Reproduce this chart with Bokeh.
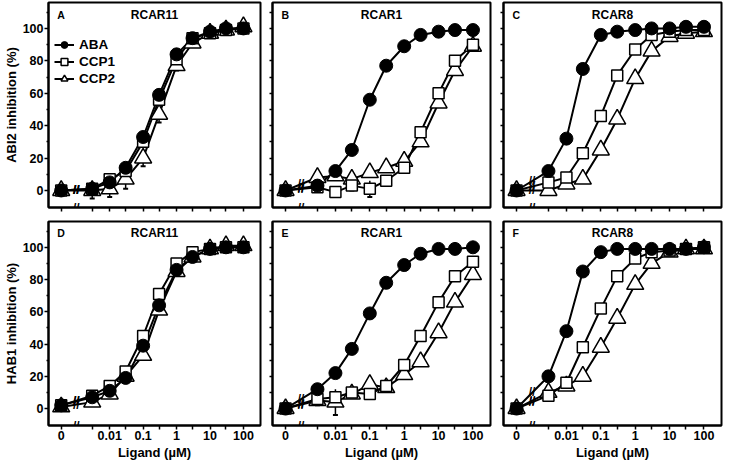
import math
from bokeh.plotting import figure
from bokeh.layouts import gridplot
from bokeh.models import FixedTicker, Label, Legend, LegendItem, Range1d
from bokeh.embed import file_html
from bokeh.resources import INLINE

FONT = "Liberation Sans"

# ---------------- data ----------------
ligand = [0, 0.003, 0.01, 0.03, 0.1, 0.3, 1, 3, 10, 30, 100]
x_labeled = [0, 0.01, 0.1, 1, 10, 100]
x_tick_text = ["0", "0.01", "0.1", "1", "10", "100"]
x_unlabeled = [0.003, 0.03, 0.3, 3, 30]
y_ticks = [0, 20, 40, 60, 80, 100]
y_minor_ticks = [10, 30, 50, 70, 90, 110]

panel_letters = ["A", "B", "C", "D", "E", "F"]
panel_titles = ["RCAR11", "RCAR1", "RCAR8", "RCAR11", "RCAR1", "RCAR8"]
row_labels = ["ABI2 inhibition (%)", "HAB1 inhibition (%)"]
x_label = "Ligand (µM)"
series_names = ["ABA", "CCP1", "CCP2"]

aba_A = [0, 1, 5, 14, 33, 59, 84, 94, 98, 100, 100]
ccp1_A = [0, 1, 7, 12, 30, 56, 81, 94, 97, 99, 100]
ccp2_A = [0, 0, 1, 7, 20, 47, 77, 91, 97, 99, 101]

aba_B = [0, 3, 12, 25, 56, 77, 89, 96, 98, 99, 99]
ccp1_B = [0, 2, -1, 3, 1, 6, 14, 36, 60, 80, 90]
ccp2_B = [0, 8, 9, 7, 11, 14, 18, 30, 54, 74, 89]

aba_C = [0, 12, 32, 75, 96, 98, 99, 100, 100, 101, 101]
ccp1_C = [0, 5, 8, 23, 46, 71, 87, 96, 98, 99, 99]
ccp2_C = [0, 0, 4, 7, 25, 44, 69, 86, 95, 97, 98]

aba_D = [2, 7, 11, 19, 39, 64, 86, 94, 99, 100, 100]
ccp1_D = [2, 8, 14, 23, 45, 71, 90, 97, 99, 100, 100]
ccp2_D = [1, 4, 9, 20, 33, 61, 85, 94, 99, 101, 101]

aba_E = [0, 12, 22, 37, 59, 78, 89, 96, 99, 99, 100]
ccp1_E = [0, 6, 7, 10, 9, 14, 27, 45, 66, 82, 91]
ccp2_E = [0, 5, 4, 9, 15, 13, 21, 29, 47, 66, 83]

aba_F = [0, 20, 48, 85, 97, 99, 99, 99, 99, 99, 100]
ccp1_F = [0, 8, 16, 38, 62, 82, 93, 97, 98, 99, 100]
ccp2_F = [0, 10, 14, 20, 38, 56, 77, 90, 97, 99, 99]

# standard errors that stick out of the markers
err_ccp2_A = [1, 5, 5, 6, 5, 5, 3, 2, 1, 1, 1]
err_ccp1_B = [1, 2, 2, 3, 5, 2, 2, 2, 2, 2, 2]
err_ccp2_E = [1, 3, 8, 2, 2, 2, 2, 2, 2, 2, 2]
err_none = [0] * 11

panel_data = [
    (aba_A, ccp1_A, ccp2_A), (aba_B, ccp1_B, ccp2_B), (aba_C, ccp1_C, ccp2_C),
    (aba_D, ccp1_D, ccp2_D), (aba_E, ccp1_E, ccp2_E), (aba_F, ccp1_F, ccp2_F),
]
panel_errors = [
    (err_none, err_none, err_ccp2_A), (err_none, err_ccp1_B, err_none),
    (err_none, err_none, err_none), (err_none, err_none, err_none),
    (err_none, err_none, err_ccp2_E), (err_none, err_none, err_none),
]

# ---------------- layout / style ----------------
ZERO_POS = -3.45      # where the "0" dose sits on the log axis
BREAK_POS = -3.0      # axis break between 0 and the first dose
X0, X1 = -3.83, 2.51
Y0, Y1 = -10.5, 116
FRAME_W = 218


def xpos(c):
    return ZERO_POS if c == 0 else math.log10(c)


xs = [xpos(c) for c in ligand]


def style_axis(ax):
    ax.axis_line_width = 2
    ax.axis_line_color = "black"
    ax.major_tick_line_width = 1.5
    ax.minor_tick_line_width = 1.5
    ax.major_tick_in = 0
    ax.major_tick_out = 4
    ax.minor_tick_in = 0
    ax.minor_tick_out = 2
    ax.major_label_text_font = FONT
    ax.major_label_text_font_style = "bold"
    ax.major_label_text_font_size = "12.5px"
    ax.major_label_text_color = "black"
    ax.axis_label_text_font = FONT
    ax.axis_label_text_font_style = "bold"
    ax.axis_label_text_font_size = "13px"
    ax.axis_label_text_color = "black"


def make_panel(i):
    row, col = divmod(i, 3)
    fh = 205
    mbl = [42, 9, 10][col]
    mbr = 3
    mbt = 2 if row == 0 else 5
    mbb = 9 if row == 0 else 36
    p = figure(width=mbl + FRAME_W + mbr, height=mbt + fh + mbb,
               x_range=Range1d(X0, X1), y_range=Range1d(Y0, Y1),
               output_backend="svg", toolbar_location=None,
               min_border_left=mbl, min_border_right=mbr,
               min_border_top=mbt, min_border_bottom=mbb)
    p.xgrid.visible = False
    p.ygrid.visible = False
    p.outline_line_color = "black"
    p.outline_line_width = 2
    p.outline_line_alpha = 1
    p.background_fill_color = "white"
    p.border_fill_color = "white"

    xa = p.xaxis[0]
    ya = p.yaxis[0]
    style_axis(xa)
    style_axis(ya)
    xa.major_label_standoff = 1
    ya.major_label_standoff = 1
    xa.axis_label_standoff = 2
    ya.axis_label_standoff = 1

    if row == 1:
        xa.ticker = FixedTicker(ticks=[xpos(c) for c in x_labeled],
                                minor_ticks=[xpos(c) for c in x_unlabeled])
        xa.major_label_overrides = {xpos(c): t for c, t in zip(x_labeled, x_tick_text)}
        xa.minor_tick_out = 4
        xa.axis_label = x_label
    else:
        # ticks only, no labels
        xa.ticker = FixedTicker(ticks=[], minor_ticks=xs)
        xa.minor_tick_out = 4
    if col == 0:
        ya.ticker = FixedTicker(ticks=y_ticks, minor_ticks=y_minor_ticks)
        ya.axis_label = row_labels[row]
    else:
        ya.ticker = FixedTicker(ticks=[], minor_ticks=sorted(y_ticks + y_minor_ticks))
        ya.minor_tick_out = 3

    aba, ccp1, ccp2 = panel_data[i]
    errs = panel_errors[i]
    lines = {}
    for name, vals in zip(series_names, (aba, ccp1, ccp2)):
        lines[name] = p.line(xs, vals, line_color="black", line_width=2)

    # error bars (drawn beneath the markers)
    for vals, err in zip((aba, ccp1, ccp2), errs):
        ex = [x for x, e in zip(xs, err) if e > 0]
        lo = [v - e for v, e in zip(vals, err) if e > 0]
        hi = [v + e for v, e in zip(vals, err) if e > 0]
        if ex:
            p.segment(ex, lo, ex, hi, line_color="black", line_width=1.5)
            p.scatter(ex, lo, marker="dash", size=5, line_color="black", line_width=2)

    scat = {}
    scat["CCP2"] = p.scatter(xs, ccp2, marker="triangle", size=17,
                             fill_color="white", line_color="black", line_width=1.5)
    scat["CCP1"] = p.scatter(xs, ccp1, marker="square", size=11,
                             fill_color="white", line_color="black", line_width=1.5)
    scat["ABA"] = p.scatter(xs, aba, marker="circle", size=13,
                            fill_color="black", line_color="black", line_width=1)

    # break marks on the data lines (between 0 and first dose)
    for vals in (aba, ccp1, ccp2):
        p.add_layout(Label(x=BREAK_POS, y=(vals[0] + vals[1]) / 2.0, text="//",
                           text_align="center", text_baseline="middle",
                           text_font=FONT, text_font_style="bold",
                           text_font_size="12px", text_color="black"))
    # break mark on the x axis
    p.add_layout(Label(x=BREAK_POS, y=Y0, text="//", text_align="center",
                       text_baseline="middle", text_font=FONT,
                       text_font_style="bold", text_font_size="12px",
                       text_color="black"))

    # panel title and letter
    ypx = (Y1 - Y0) / fh
    xpx = (X1 - X0) / FRAME_W
    ty = Y1 - 12 * ypx
    p.add_layout(Label(x=(X0 + X1) / 2.0, y=ty, text=panel_titles[i],
                       text_align="center", text_baseline="middle",
                       text_font=FONT, text_font_style="bold",
                       text_font_size="12px", text_color="black"))
    p.add_layout(Label(x=X0 + 9 * xpx, y=ty, text=panel_letters[i],
                       text_align="left", text_baseline="middle",
                       text_font=FONT, text_font_style="bold",
                       text_font_size="10.5px", text_color="black"))

    if i == 0:
        items = [LegendItem(label=n, renderers=[lines[n], scat[n]]) for n in series_names]
        leg = Legend(items=items, location=(6, 120))
        leg.label_text_font = FONT
        leg.label_text_font_style = "bold"
        leg.label_text_font_size = "13.5px"
        leg.label_text_color = "black"
        leg.glyph_width = 20
        leg.glyph_height = 17
        leg.label_height = 17
        leg.label_standoff = 5
        leg.spacing = 0
        leg.padding = 0
        leg.margin = 0
        leg.border_line_alpha = 0
        leg.background_fill_alpha = 0
        p.add_layout(leg)
    return p


panels = [make_panel(i) for i in range(6)]
grid = gridplot([panels[0:3], panels[3:6]], toolbar_location=None)

open("out.html", "w").write(file_html(grid, INLINE))
